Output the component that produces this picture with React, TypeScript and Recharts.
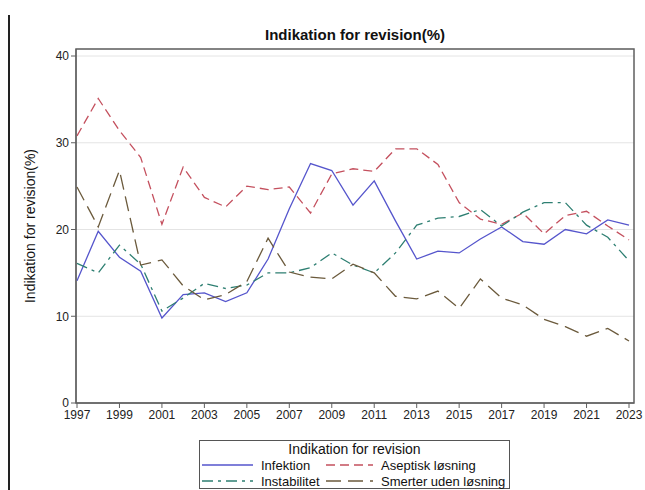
import { LineChart, Line, XAxis, YAxis, CartesianGrid, usePlotArea } from 'recharts'

const years = [
  1997, 1998, 1999, 2000, 2001, 2002, 2003, 2004, 2005, 2006, 2007, 2008, 2009,
  2010, 2011, 2012, 2013, 2014, 2015, 2016, 2017, 2018, 2019, 2020, 2021, 2022, 2023,
]
const infektion = [
  14.1, 19.8, 16.8, 15.2, 9.8, 12.5, 12.7, 11.7, 12.7, 16.6, 22.4, 27.6, 26.8,
  22.8, 25.6, 21.0, 16.6, 17.5, 17.3, 18.9, 20.3, 18.6, 18.3, 20.0, 19.5, 21.1, 20.5,
]
const aseptisk = [
  30.8, 35.1, 31.4, 28.3, 20.6, 27.2, 23.7, 22.6, 25.0, 24.6, 24.9, 21.9, 26.4,
  27.0, 26.7, 29.3, 29.3, 27.5, 23.1, 21.2, 20.6, 21.9, 19.5, 21.6, 22.1, 20.4, 18.8,
]
const instabilitet = [
  16.1, 15.0, 18.2, 16.0, 10.6, 12.1, 13.8, 13.2, 13.6, 15.0, 15.0, 15.6, 17.3,
  15.9, 15.0, 17.3, 20.5, 21.3, 21.5, 22.3, 20.4, 22.0, 23.1, 23.1, 20.5, 19.1, 16.4,
]
const smerter = [
  24.9, 20.3, 26.8, 15.9, 16.5, 13.5, 11.9, 12.5, 14.0, 19.0, 15.1, 14.5, 14.3,
  16.0, 15.0, 12.3, 12.0, 12.9, 10.9, 14.3, 12.1, 11.3, 9.65, 8.8, 7.7, 8.6, 7.15,
]
const xTicks = [1997, 1999, 2001, 2003, 2005, 2007, 2009, 2011, 2013, 2015, 2017, 2019, 2021, 2023]
const yTicks = [0, 10, 20, 30, 40]

const series = [
  { key: 'infektion', name: 'Infektion', color: '#5555cc', dash: undefined as string | undefined },
  { key: 'aseptisk', name: 'Aseptisk løsning', color: '#c4505e', dash: '9 5' },
  { key: 'instabilitet', name: 'Instabilitet', color: '#2e7f72', dash: '11 5 3 5' },
  { key: 'smerter', name: 'Smerter uden løsning', color: '#6b5a3c', dash: '15 7' },
]

const data = years.map((year, i) => ({
  year,
  infektion: infektion[i],
  aseptisk: aseptisk[i],
  instabilitet: instabilitet[i],
  smerter: smerter[i],
}))

const FONT = '"Liberation Sans", Arial, sans-serif'

function Frame() {
  const area = usePlotArea()
  if (!area) return null
  return (
    <rect
      x={area.x}
      y={area.y}
      width={area.width}
      height={area.height}
      fill="none"
      stroke="#5f5f5f"
      strokeWidth={1.5}
    />
  )
}

function LegendItem({ s, lineW }: { s: (typeof series)[number]; lineW: number }) {
  return (
    <div style={{ display: 'flex', alignItems: 'center', height: 16, whiteSpace: 'nowrap' }}>
      <svg width={lineW} height={10} style={{ flex: 'none' }}>
        <line x1={0} y1={5} x2={lineW} y2={5} stroke={s.color} strokeWidth={1.3} strokeDasharray={s.dash} />
      </svg>
      <span style={{ marginLeft: 8 }}>{s.name}</span>
    </div>
  )
}

export default function App() {
  return (
    <div style={{ position: 'absolute', left: 0, top: 0, width: 645, height: 490, background: '#fff', fontFamily: FONT }}>
      {/* venstre kant fra skærmbilledet */}
      <div style={{ position: 'absolute', left: 8, top: 15, width: 2, height: 475, background: '#222' }} />

      <div
        style={{
          position: 'absolute',
          left: 76,
          width: 558,
          top: 26,
          textAlign: 'center',
          fontWeight: 'bold',
          fontSize: 15,
          color: '#111',
        }}
      >
        Indikation for revision(%)
      </div>

      <LineChart
        width={645}
        height={490}
        data={data}
        margin={{ top: 49, right: 11, left: 16, bottom: 57 }}
        style={{ position: 'absolute', left: 0, top: 0 }}
      >
        <CartesianGrid vertical={false} stroke="#e4e4e4" />
        <XAxis
          dataKey="year"
          type="number"
          domain={[1997, 2023]}
          ticks={xTicks}
          padding={{ left: 1, right: 5 }}
          height={30}
          tickSize={5}
          stroke="#5f5f5f"
          tick={{ fontSize: 12, fill: '#222', fontFamily: FONT }}
          interval={0}
        />
        <YAxis
          domain={[0, 40]}
          ticks={yTicks}
          padding={{ top: 7 }}
          width={60}
          tickSize={5}
          stroke="#5f5f5f"
          tick={{ fontSize: 12, fill: '#222', fontFamily: FONT }}
          label={{
            value: 'Indikation for revision(%)',
            angle: -90,
            position: 'insideLeft',
            offset: 14,
            style: { textAnchor: 'middle', fontSize: 14, fill: '#111', fontFamily: FONT },
          }}
        />
        {series.map((s) => (
          <Line
            key={s.key}
            dataKey={s.key}
            name={s.name}
            stroke={s.color}
            strokeWidth={1.3}
            strokeDasharray={s.dash}
            dot={false}
            type="linear"
            isAnimationActive={false}
          />
        ))}
        <Frame />
      </LineChart>

      {/* forklaring */}
      <div
        style={{
          position: 'absolute',
          left: 199,
          top: 440,
          width: 311,
          height: 49,
          border: '1px solid #555',
          fontSize: 13,
          color: '#111',
          boxSizing: 'border-box',
        }}
      >
        <div style={{ textAlign: 'center', fontSize: 14, height: 16, lineHeight: '16px', marginTop: 0 }}>
          Indikation for revision
        </div>
        <div style={{ display: 'grid', gridTemplateColumns: '124px 185px', paddingLeft: 2 }}>
          {series.map((s, i) => (
            <LegendItem key={s.key} s={s} lineW={i % 2 === 0 ? 51 : 47} />
          ))}
        </div>
      </div>
    </div>
  )
}
